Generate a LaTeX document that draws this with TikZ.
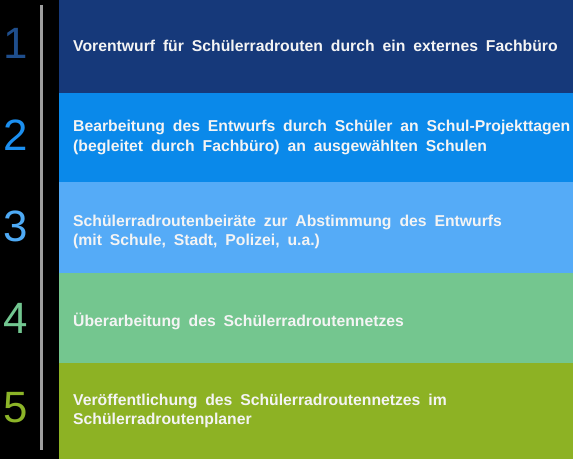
\documentclass[tikz,border=0pt]{standalone}
\usepackage{fontspec}
\setmainfont{Liberation Sans}
\definecolor{bandA}{HTML}{16397A}
\definecolor{bandB}{HTML}{0A89EA}
\definecolor{bandC}{HTML}{55ABF7}
\definecolor{bandD}{HTML}{74C68F}
\definecolor{bandE}{HTML}{8DB224}
\definecolor{numA}{HTML}{1F4E8C}
\definecolor{numB}{HTML}{1B8FF0}
\definecolor{numC}{HTML}{4EAAF5}
\definecolor{numD}{HTML}{72C690}
\definecolor{numE}{HTML}{8CB428}
\definecolor{txt}{HTML}{F4F4F4}
\newcommand{\lblfont}{\fontsize{15.8}{19.5}\selectfont\bfseries\spaceskip=7.9bp plus 1bp\relax}
\begin{document}
\begin{tikzpicture}[x=1bp,y=-1bp,
  band/.style={inner sep=0pt, outer sep=0pt, minimum width=514bp, anchor=north west},
  num/.style={font=\fontsize{44}{44}\selectfont, anchor=center, inner sep=0pt},
  lbl/.style={anchor=west, align=left, text=txt, inner sep=0pt, font=\lblfont}]
\fill[black] (0,0) rectangle (573,459);
\useasboundingbox (0,0) rectangle (573,459);
\node[band, fill=bandA, minimum height=93bp] (b1) at (59,0) {};
\node[band, fill=bandB, minimum height=89bp] (b2) at (59,93) {};
\node[band, fill=bandC, minimum height=91bp] (b3) at (59,182) {};
\node[band, fill=bandD, minimum height=90bp] (b4) at (59,273) {};
\node[band, fill=bandE, minimum height=96bp] (b5) at (59,363) {};
\coordinate (lt) at (41.5,5);
\coordinate (lb) at (41.5,450);
\draw[line width=3bp, color=gray!75] (lt) -- (lb);
\node[num, text=numA] (n1) at (16,43) {1};
\node[num, text=numB] (n2) at (16,135) {2};
\node[num, text=numC] (n3) at (16,226) {3};
\node[num, text=numD] (n4) at (16,318) {4};
\node[num, text=numE] (n5) at (16,408) {5};
\node[lbl] (t1) at (73,46) {Vorentwurf für Schülerradrouten durch ein externes Fachbüro};
\node[lbl] (t2) at (73,137.5) {Bearbeitung des Entwurfs durch Schüler an Schul-Projekttagen\\(begleitet durch Fachbüro) an ausgewählten Schulen};
\node[lbl] (t3) at (73,232) {Schülerradroutenbeiräte zur Abstimmung des Entwurfs\\(mit Schule, Stadt, Polizei, u.a.)};
\node[lbl] (t4) at (73,321) {Überarbeitung des Schülerradroutennetzes};
\node[lbl] (t5) at (73,411) {Veröffentlichung des Schülerradroutennetzes im\\Schülerradroutenplaner};
\end{tikzpicture}
\end{document}
